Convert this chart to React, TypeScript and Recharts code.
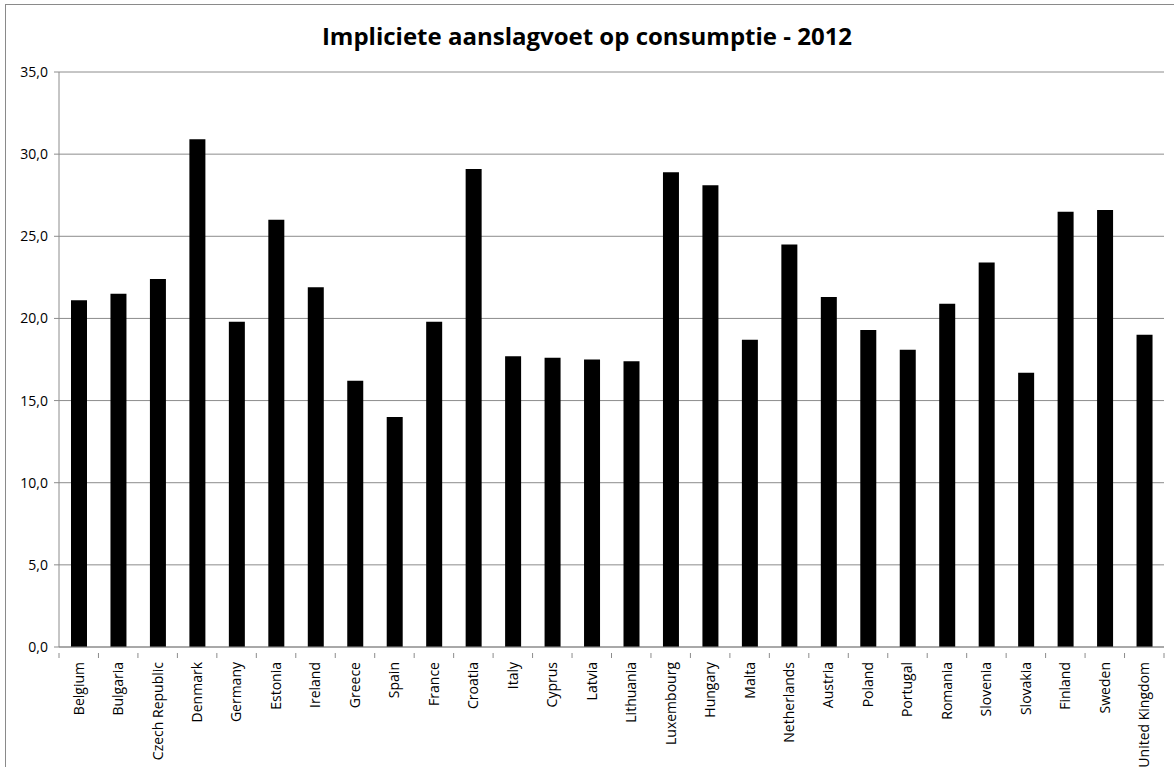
import React from 'react';
import { BarChart, Bar, XAxis, YAxis, CartesianGrid } from 'recharts';

const countries = [
  'Belgium', 'Bulgaria', 'Czech Republic', 'Denmark', 'Germany', 'Estonia', 'Ireland',
  'Greece', 'Spain', 'France', 'Croatia', 'Italy', 'Cyprus', 'Latvia', 'Lithuania',
  'Luxembourg', 'Hungary', 'Malta', 'Netherlands', 'Austria', 'Poland', 'Portugal',
  'Romania', 'Slovenia', 'Slovakia', 'Finland', 'Sweden', 'United Kingdom',
];

const rates = [
  21.1, 21.5, 22.4, 30.9, 19.8, 26.0, 21.9,
  16.2, 14.0, 19.8, 29.1, 17.7, 17.6, 17.5, 17.4,
  28.9, 28.1, 18.7, 24.5, 21.3, 19.3, 18.1,
  20.9, 23.4, 16.7, 26.5, 26.6, 19.0,
];

const yTicks = [0, 5, 10, 15, 20, 25, 30, 35];

const data = countries.map((name, i) => ({ name, value: rates[i] }));

const W = 1174;
const H = 767;
const plotLeft = 59;
const plotRight = 1164;
const band = (plotRight - plotLeft) / countries.length;
const font = '"Open Sans", "Liberation Sans", sans-serif';

const CountryTick = (props: any) => {
  const { x, y, payload, index } = props;
  const half = band / 2;
  return (
    <g>
      <line x1={x - half} y1={y - 8} x2={x - half} y2={y - 3} stroke="#8c8c8c" />
      {index === countries.length - 1 && (
        <line x1={x + half} y1={y - 8} x2={x + half} y2={y - 3} stroke="#8c8c8c" />
      )}
      <text
        x={x}
        y={y + 1}
        transform={`rotate(-90, ${x}, ${y + 1})`}
        textAnchor="end"
        dy="0.35em"
        fontSize={14}
        fill="#000"
        fontFamily={font}
      >
        {payload.value}
      </text>
    </g>
  );
};

export default function App() {
  return (
    <div style={{ position: 'absolute', left: 0, top: 0, width: W, height: H, overflow: 'hidden', background: '#fff' }}>
      <div
        style={{
          position: 'absolute',
          left: 5,
          top: 4,
          width: W + 20,
          height: H + 20,
          border: '1px solid #8a8a8a',
          boxSizing: 'border-box',
        }}
      />
      <div
        style={{
          position: 'absolute',
          left: 0,
          top: 19,
          width: W,
          textAlign: 'center',
          fontFamily: font,
          fontWeight: 700,
          fontSize: 24,
          color: '#000',
        }}
      >
        Impliciete aanslagvoet op consumptie - 2012
      </div>
      <div style={{ position: 'absolute', left: 0, top: 0 }}>
        <BarChart
          width={W}
          height={H}
          data={data}
          margin={{ top: 72, right: W - plotRight, bottom: 0, left: 0 }}
          barSize={16}
        >
          <CartesianGrid vertical={false} stroke="#8c8c8c" />
          <XAxis
            dataKey="name"
            interval={0}
            height={H - 647}
            axisLine={{ stroke: '#8c8c8c' }}
            tickLine={false}
            tick={<CountryTick />}
            tickMargin={8}
          />
          <YAxis
            width={plotLeft}
            domain={[0, 35]}
            ticks={yTicks}
            allowDataOverflow
            axisLine={{ stroke: '#8c8c8c' }}
            tickLine={{ stroke: '#8c8c8c' }}
            tickSize={5}
            tickMargin={6}
            tickFormatter={(v: number) => v.toFixed(1).replace('.', ',')}
            tick={{ fontSize: 14, fill: '#000', fontFamily: font }}
          />
          <Bar dataKey="value" fill="#000" isAnimationActive={false} />
        </BarChart>
      </div>
    </div>
  );
}
